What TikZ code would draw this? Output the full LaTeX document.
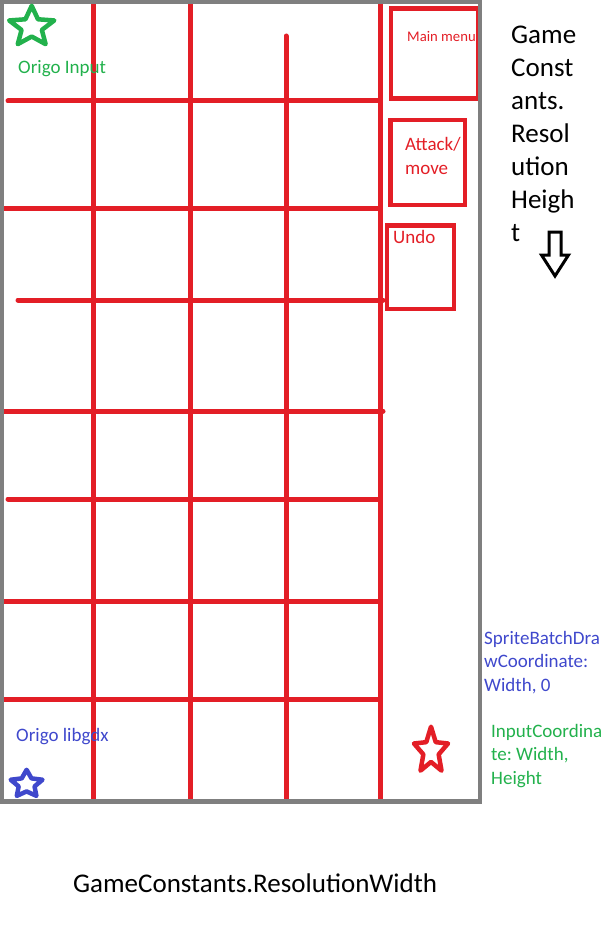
\documentclass[tikz,border=0pt]{standalone}
\usepackage{fontspec}
\setmainfont{Carlito}
\usetikzlibrary{calc}
\frenchspacing

\definecolor{paintred}{RGB}{227,30,38}
\definecolor{paintgreen}{RGB}{34,177,76}
\definecolor{paintblue}{RGB}{63,72,204}
\definecolor{framegray}{RGB}{127,127,127}

\tikzset{
  gridline/.style={paintred, line width=5pt, line cap=round},
  menubox/.style={paintred, line width=4.5pt},
  note/.style={inner sep=0pt, anchor=base west, align=left,
    font=\fontsize{19}{23.3}\selectfont},
  bignote/.style={inner sep=0pt, anchor=base west, align=left,
    font=\fontsize{27}{33}\selectfont},
}

% colour, centre, x radius, y radius, inner ratio
\newcommand{\paintstar}[5]{%
  \draw[#1, line width=4.5pt, line join=round, shift={#2}, x=#3pt, y=-#4pt]
    (-90:1) -- (-54:#5) -- (-18:1) -- (18:#5) -- (54:1) -- (90:#5)
    -- (126:1) -- (162:#5) -- (198:1) -- (234:#5) -- cycle;
}

\begin{document}
\begin{tikzpicture}[x=1pt,y=-1pt]
        \useasboundingbox (0,0) rectangle (602,939);

        % board
        \draw[gridline] (93,4)--(93,800);
        \draw[gridline] (190,4)--(190,800);
        \draw[gridline] (286,36)--(286,800);
        \draw[gridline] (380,4)--(380,800);

        \draw[gridline] (8,101)--(380,101);
        \draw[gridline] (3,208)--(380,208);
        \draw[gridline] (18,300)--(383,300);
        \draw[gridline] (3,411)--(383,411);
        \draw[gridline] (8,499)--(380,499);
        \draw[gridline] (3,601)--(380,601);
        \draw[gridline] (3,699)--(380,699);

        % buttons
        \draw[menubox] (391,8.5) rectangle (478,98.5);
        \draw[menubox] (390.5,120) rectangle (465,205);
        \draw[menubox] (387,225.5) rectangle (454,309);

        % multi-line notes sit on the baseline of their last line
        \node[note, paintred, font=\fontsize{14.7}{17}\selectfont] (mainmenu) at (407,42) {Main menu};
        \node[note, paintred] (attack) at (405,174) {Attack/\\move};
        \node[note, paintred] (undo) at (393,243) {Undo};

        % screen
        \draw[framegray, line width=4.5pt] (2,2) rectangle (480,801.5);

        % origins
        \paintstar{paintgreen}{(31.7,27)}{23.7}{21.2}{0.45}
        \paintstar{paintblue}{(26.6,784.2)}{16.7}{14.4}{0.5}
        \paintstar{paintred}{(431,751)}{17.9}{24.3}{0.45}

        \node[note, paintgreen] (originput) at (18,74) {Origo Input};
        \node[note, paintblue] (origdx) at (16,741) {Origo libgdx};

        \node[note, paintblue] (spritecoord) at (484,691) {SpriteBatchDra\\wCoordinate:\\Width, 0};
        \node[note, paintgreen] (inputcoord) at (491,784) {InputCoordina\\te: Width,\\Height};

        % resolution
        \node[bignote] (resheight) at (511,241) {Game\\Const\\ants.\\Resol\\ution\\Heigh\\t};
        \draw[black, line width=3pt] (549,232)--(561,232)--(561,255)--(568.5,255)
          --(555,276)--(541.5,255)--(549,255)--cycle;
        \node[bignote] (reswidth) at (73,892) {GameConstants.ResolutionWidth};
\end{tikzpicture}
\end{document}
